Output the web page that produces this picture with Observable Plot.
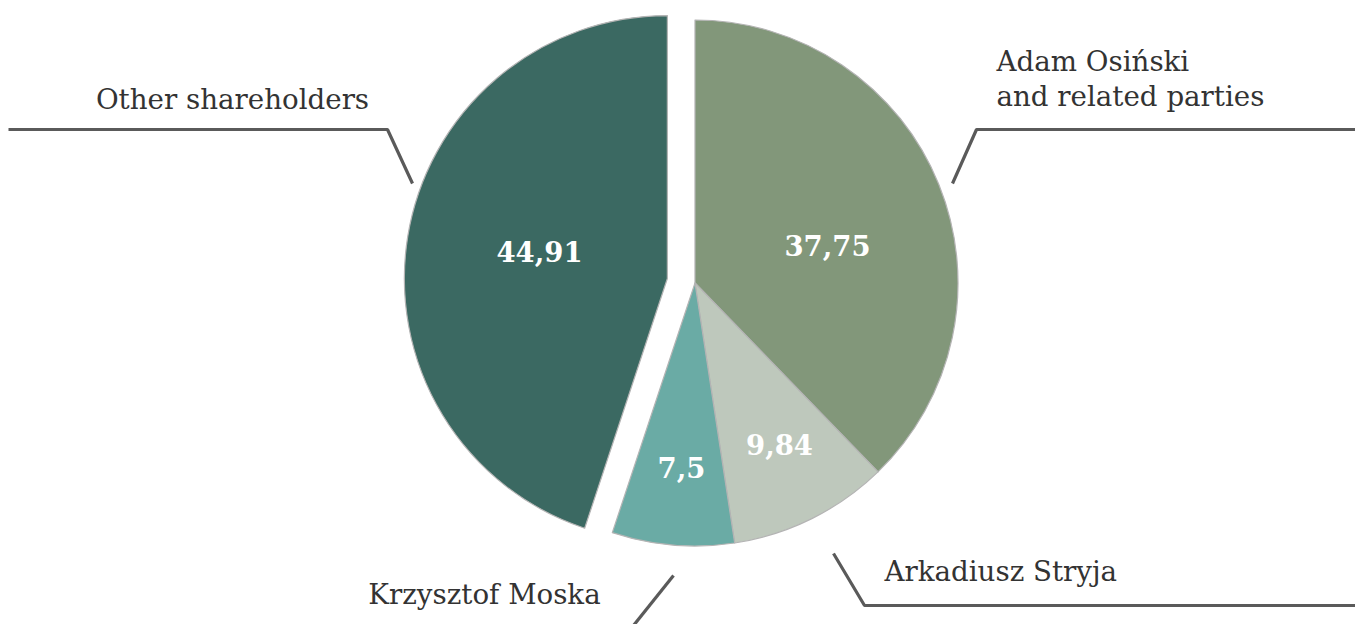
<!DOCTYPE html>
<html>
<head>
<meta charset="utf-8">
<script src="https://cdn.jsdelivr.net/npm/d3@7"></script>
<script src="https://cdn.jsdelivr.net/npm/@observablehq/plot@0.6"></script>
<style>
  html, body { margin: 0; padding: 0; background: #ffffff; }
  #chart svg { display: block; }
</style>
</head>
<body>
<div id="chart"></div>
<script>
// ---- data ----
const shareholders = ["Adam Osiński\nand related parties", "Arkadiusz Stryja", "Krzysztof Moska", "Other shareholders"];
const shares = [37.75, 9.84, 7.5, 44.91];
const shareLabels = ["37,75", "9,84", "7,5", "44,91"];

// ---- style / layout ----
const sliceColors = ["#82977a", "#bec8bc", "#6aaba5", "#3b6962"];
const W = 1355, H = 624;
const pieCenter = {x: 695, y: 283};
const pieRadius = 263;
const explode = [0, 0, 0, 28];
// value label anchors (pixel layout)
const valuePos = [[827, 247], [779, 446], [681, 469], [539, 253]];
// category label layout
const catLabelPos = [
  {x: 996, y: 105, anchor: "start"},
  {x: 884, y: 580, anchor: "start"},
  {x: 484, y: 603, anchor: "middle"},
  {x: 232, y: 108, anchor: "middle"}
];
const leaderLines = [
  [[952, 183], [976, 129], [1360, 129]],
  [[833, 553], [864, 605], [1360, 605]],
  [[673, 575], [633, 625]],
  [[412, 183], [387, 129], [8, 129]]
];

const pieData = d3.pie().sort(null).value(d => d.value)(
  shareholders.map((name, i) => ({name, value: shares[i], color: sliceColors[i], i}))
);

const arcGen = d3.arc().innerRadius(0).outerRadius(pieRadius);

function pieMark(index, scales) {
  const g = d3.create("svg:g");
  const cx = scales.x(pieCenter.x), cy = scales.y(pieCenter.y);
  for (const a of pieData) {
    const mid = (a.startAngle + a.endAngle) / 2;
    const off = explode[a.data.i];
    const dx = off * Math.sin(mid), dy = -off * Math.cos(mid);
    g.append("path")
      .attr("d", arcGen(a))
      .attr("transform", `translate(${cx + dx},${cy + dy})`)
      .attr("fill", a.data.color)
      .attr("stroke", "#b4b4b4")
      .attr("stroke-width", 1.2)
      .attr("stroke-linejoin", "round");
  }
  return g.node();
}

const valueRows = shareLabels.map((t, i) => ({t, x: valuePos[i][0], y: valuePos[i][1]}));
const catRows = shareholders.map((t, i) => ({t, ...catLabelPos[i]}));
const lineRows = leaderLines.flatMap((pts, k) => pts.map(([x, y]) => ({k, x, y})));

const chart = Plot.plot({
  width: W,
  height: H,
  margin: 0,
  style: {background: "#ffffff", overflow: "hidden"},
  x: {domain: [0, W], range: [0, W], axis: null},
  y: {domain: [0, H], range: [0, H], axis: null},
  marks: [
    pieMark,
    Plot.line(lineRows, {x: "x", y: "y", z: "k", stroke: "#5a5a5a", strokeWidth: 3.2, strokeLinejoin: "miter", strokeLinecap: "butt"}),
    Plot.text(valueRows, {x: "x", y: "y", text: "t", fill: "#ffffff", fontSize: 27.5, fontWeight: "bold",
      fontFamily: "DejaVu Serif", textAnchor: "middle", lineAnchor: "middle"}),
    Plot.text(catRows.filter(d => d.anchor === "start"), {x: "x", y: "y", text: "t", fill: "#333333", fontSize: 27.7,
      fontFamily: "DejaVu Serif", textAnchor: "start", lineAnchor: "bottom", lineHeight: 1.26}),
    Plot.text(catRows.filter(d => d.anchor === "middle"), {x: "x", y: "y", text: "t", fill: "#333333", fontSize: 27.7,
      fontFamily: "DejaVu Serif", textAnchor: "middle", lineAnchor: "bottom"})
  ]
});
document.getElementById("chart").appendChild(chart);
</script>
</body>
</html>
